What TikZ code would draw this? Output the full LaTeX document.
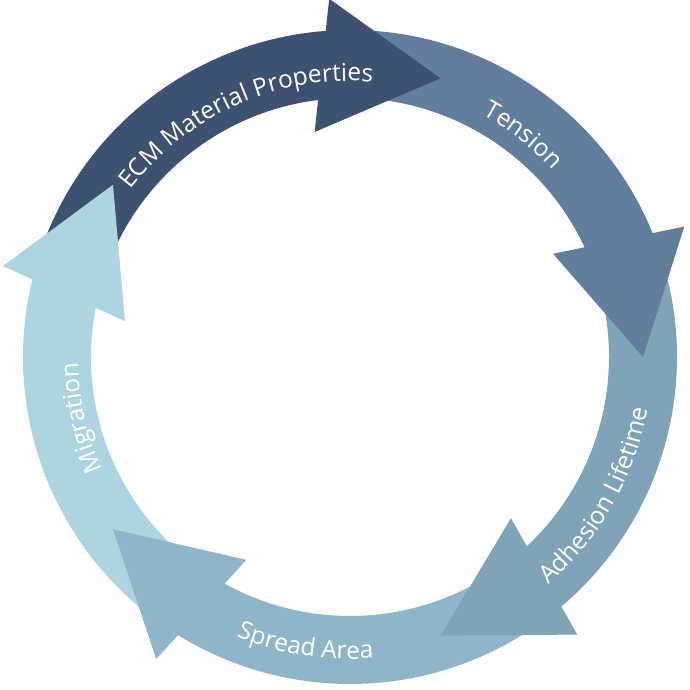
\documentclass[tikz,border=0pt]{standalone}
\usepackage{fontspec}
\setmainfont{Open Sans}
\usetikzlibrary{calc, decorations.text}
\definecolor{ecmblue}{HTML}{3D5170}
\definecolor{tensionblue}{HTML}{617E9C}
\definecolor{adhesionblue}{HTML}{7FA3B7}
\definecolor{spreadblue}{HTML}{8FB5C8}
\definecolor{migrationblue}{HTML}{ACD5DF}
\newcommand{\rOut}{327pt}
\newcommand{\rIn}{259pt}
\newcommand{\rMid}{293pt}
\newcommand{\headw}{67pt}
\newcommand{\labelfont}{\fontsize{24.5pt}{24.5pt}\selectfont}
\tikzset{
    cyclelabel/.style={decorate, decoration={text along path, text align=center,
        text color=white, text={|\labelfont|#1}}},
}

\begin{document}
\begin{tikzpicture}
    \useasboundingbox (-350pt,-333pt) rectangle (339pt,357pt);
    \coordinate (c) at (0,0);

    % curved bodies, each tail hidden under the previous head
    \foreach \tip/\col in {72/ecmblue, 0/tensionblue, -72/adhesionblue,
                           -144/spreadblue, 144/migrationblue} {
        \pgfmathsetmacro{\bodytail}{\tip+90}
        \pgfmathsetmacro{\bodyend}{\tip+19.5}
        \fill[\col] (\bodytail:\rOut) arc[start angle=\bodytail, end angle=\bodyend, radius=\rOut]
            -- (\bodyend:\rIn) arc[start angle=\bodyend, end angle=\bodytail, radius=\rIn] -- cycle;
    }

    % arrow heads
    \foreach \tip/\col/\name in {72/ecmblue/ecm, 0/tensionblue/tension, -72/adhesionblue/adhesion,
                                 -144/spreadblue/spread, 144/migrationblue/migration} {
        \pgfmathsetmacro{\headbase}{\tip+23.5}
        \coordinate (\name-tip) at (\tip:\rMid);
        \coordinate (\name-base) at (\headbase:\rMid);
        \fill[\col] (\name-tip) -- ($(\name-base)!\headw!90:(\name-tip)$)
            -- ($(\name-base)!\headw!-90:(\name-tip)$) -- cycle;
    }

    % labels along the ring
    \path[cyclelabel={ECM Material Properties}] (154:276pt) arc[start angle=154, end angle=74, radius=276pt];
    \path[cyclelabel={Tension}] (92:276pt) arc[start angle=92, end angle=12, radius=276pt];
    \path[cyclelabel={Adhesion Lifetime}] (-69.4:302pt) arc[start angle=-69.4, end angle=10.6, radius=302pt];
    \path[cyclelabel={Spread Area}] (-138.8:302pt) arc[start angle=-138.8, end angle=-58.8, radius=302pt];
    \path[cyclelabel={Migration}] (232.8:272pt) arc[start angle=232.8, end angle=152.8, radius=272pt];
\end{tikzpicture}
\end{document}
